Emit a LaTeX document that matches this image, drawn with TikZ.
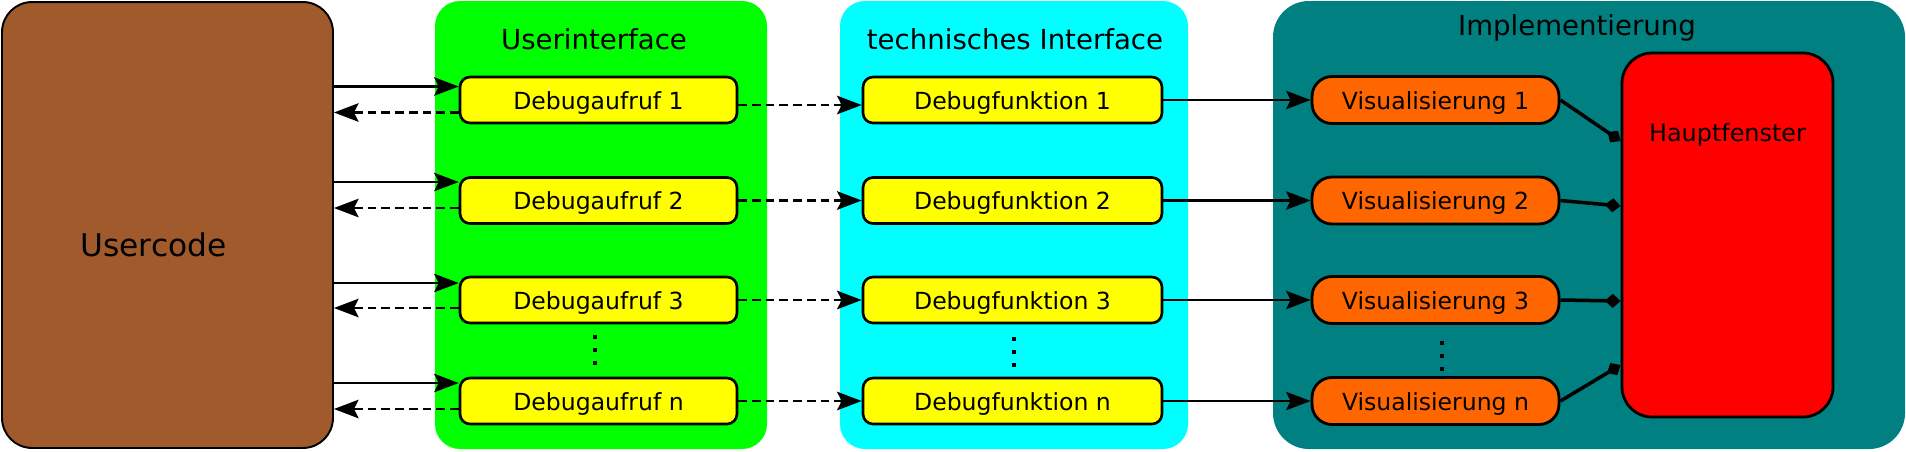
\documentclass[tikz,border=0pt]{standalone}
\usepackage{fontspec}
\setmainfont{DejaVu Sans}
\usepackage{tikz}
\usetikzlibrary{arrows.meta}
\usepackage{xcolor}

\definecolor{usercol}{HTML}{A05A2C}
\definecolor{uigreen}{HTML}{00FF00}
\definecolor{techcyan}{HTML}{00FFFF}
\definecolor{impteal}{HTML}{008080}
\definecolor{callyellow}{HTML}{FFFF00}
\definecolor{visorange}{HTML}{FF6600}
\definecolor{mainred}{HTML}{FF0000}

\tikzset{
  callbox/.style={draw, line width=1.5pt, fill=callyellow, rounded corners=0.2cm,
    minimum height=0.92cm, inner sep=0pt, text height=0.36cm, text depth=0pt,
    font=\fontsize{13.4}{16}\selectfont},
  visbox/.style={callbox, line width=1.6pt, fill=visorange, rounded corners=0.4cm,
    minimum width=4.94cm, minimum height=0.94cm},
  paneltitle/.style={anchor=base, font=\fontsize{15.7}{19}\selectfont},
  callarrow/.style={line width=1.2pt, -{Stealth[length=14pt,width=10.5pt,inset=2.6pt]}},
  dasharrow/.style={callarrow, line width=1.5pt, dash pattern=on 5pt off 2.8pt},
  winline/.style={line width=2pt, -{Diamond[length=9pt,width=8pt]}}
}

\begin{document}
\begin{tikzpicture}[x=0.02cm, y=-0.02cm]
	\useasboundingbox (0,0) rectangle (1906,451);
	
	% the three panels
	\fill[uigreen, rounded corners=0.5cm] (435,1) rectangle (767,449);
	\fill[techcyan, rounded corners=0.5cm] (840,1) rectangle (1188,449);
	\fill[impteal, rounded corners=0.72cm] (1273,1) rectangle (1905,449);
	\node[paneltitle] (uititle) at (594,49) {Userinterface};
	\node[paneltitle] (techtitle) at (1015,49) {technisches Interface};
	\node[paneltitle] (imptitle) at (1577,35) {Implementierung};
	
	% usercode
	\node[draw, line width=1.1pt, fill=usercol, rounded corners=0.6cm, minimum width=6.62cm, minimum height=8.92cm] (user) at (167.5,225) {};
	\node[anchor=base, font=\fontsize{17.8}{21}\selectfont] (usertext) at (153.5,256.7) {Usercode};
	
	% main window
	\node[draw, line width=1.6pt, fill=mainred, rounded corners=0.6cm, minimum width=4.22cm, minimum height=7.28cm] (haupt) at (1727.5,235) {};
	\node[anchor=base, font=\fontsize{13.6}{16}\selectfont] (hauptlbl) at (1727.5,141.7) {Hauptfenster};
	
	% rows
	\foreach \i/\y in {1/100, 2/200.5, 3/300, n/401} {
		\node[callbox, minimum width=5.54cm] (a\i) at (598.5,\y) {Debugaufruf \i};
		\node[callbox, minimum width=5.98cm] (f\i) at (1012.5,\y) {Debugfunktion \i};
		\node[visbox] (v\i) at (1435.5,\y) {Visualisierung \i};
	}
	
	\foreach \i/\up/\dn/\mid in {1/0.27/0.25/0.1, 2/0.37/0.15/0, 3/0.34/0.16/0, n/0.36/0.16/0} {
		\coordinate (in\i) at ([yshift=\up cm]a\i.west);
		\coordinate (out\i) at ([yshift=-\dn cm]a\i.west);
		\draw[callarrow] (user.east |- in\i) -- (in\i);
		\draw[dasharrow] (out\i) -- (user.east |- out\i);
		\draw[dasharrow] ([yshift=-\mid cm]a\i.east) -- ([yshift=-\mid cm]f\i.west);
		\draw[callarrow] (f\i.east) -- (v\i.west);
	}
	
	\foreach \i/\y in {1/141, 2/206, 3/301, n/365} {
		\coordinate (h\i) at (0,\y);
		\draw[winline] (v\i.east) -- (haupt.west |- h\i);
	}
	
	% dots
	\foreach \x/\y in {595/337, 1014/339, 1442/343}
		\foreach \d in {0,13,26}
			\fill (\x-2,\y+\d-2) rectangle +(4,4);
\end{tikzpicture}
\end{document}
